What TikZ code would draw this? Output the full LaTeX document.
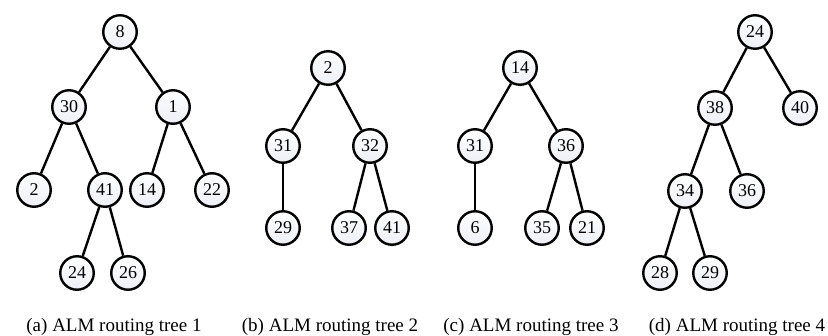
\documentclass[tikz,border=0pt]{standalone}
\usepackage{fontspec}
\setmainfont{Liberation Serif}
\usetikzlibrary{calc}
\definecolor{nodebot}{RGB}{236,239,246}
\tikzset{
	vert/.style={circle, draw=black, line width=2.4pt, minimum size=33.5pt, inner sep=0pt,
		top color=white, bottom color=nodebot, font=\fontsize{18}{18}\selectfont},
	edge/.style={line width=2.4pt},
	capt/.style={anchor=base, font=\fontsize{19}{19}\selectfont, inner sep=0pt}
}

\begin{document}
\begin{tikzpicture}[x=1pt, y=-1pt]
		%%%%% START %%%%%
		\useasboundingbox (0, 0) rectangle (828, 336);
		
		% tree 1
		\node[vert] (a8) at (120, 32) {8};
		\node[vert] (a30) at (69, 107) {30};
		\node[vert] (a1) at (173, 107) {1};
		\node[vert] (a2) at (34, 190) {2};
		\node[vert] (a41) at (105, 190) {41};
		\node[vert] (a14) at (147, 190) {14};
		\node[vert] (a22) at (212, 190) {22};
		\node[vert] (a24) at (77, 273) {24};
		\node[vert] (a26) at (128, 273) {26};
		\draw[edge] (a8) -- (a30);
		\draw[edge] (a8) -- (a1);
		\draw[edge] (a30) -- (a2);
		\draw[edge] (a30) -- (a41);
		\draw[edge] (a1) -- (a14);
		\draw[edge] (a1) -- (a22);
		\draw[edge] (a41) -- (a24);
		\draw[edge] (a41) -- (a26);
		\node[capt] (capa) at (114, 332) {(a) ALM routing tree 1};
		
		% tree 2
		\node[vert] (b2) at (328, 68) {2};
		\node[vert] (b31) at (283, 146) {31};
		\node[vert] (b32) at (370, 146) {32};
		\node[vert] (b29) at (283, 228) {29};
		\node[vert] (b37) at (349, 228) {37};
		\node[vert] (b41) at (392, 228) {41};
		\draw[edge] (b2) -- (b31);
		\draw[edge] (b2) -- (b32);
		\draw[edge] (b31) -- (b29);
		\draw[edge] (b32) -- (b37);
		\draw[edge] (b32) -- (b41);
		\node[capt] (capb) at (330, 332) {(b) ALM routing tree 2};
		
		% tree 3
		\node[vert] (c14) at (520, 68) {14};
		\node[vert] (c31) at (475, 146) {31};
		\node[vert] (c36) at (566, 146) {36};
		\node[vert] (c6) at (475, 228) {6};
		\node[vert] (c35) at (542, 228) {35};
		\node[vert] (c21) at (587, 228) {21};
		\draw[edge] (c14) -- (c31);
		\draw[edge] (c14) -- (c36);
		\draw[edge] (c31) -- (c6);
		\draw[edge] (c36) -- (c35);
		\draw[edge] (c36) -- (c21);
		\node[capt] (capc) at (531, 332) {(c) ALM routing tree 3};
		
		% tree 4
		\node[vert] (d24) at (755, 32) {24};
		\node[vert] (d38) at (715, 108) {38};
		\node[vert] (d40) at (800, 108) {40};
		\node[vert] (d34) at (685, 191) {34};
		\node[vert] (d36) at (747, 191) {36};
		\node[vert] (d28) at (660, 273) {28};
		\node[vert] (d29) at (710, 273) {29};
		\draw[edge] (d24) -- (d38);
		\draw[edge] (d24) -- (d40);
		\draw[edge] (d38) -- (d34);
		\draw[edge] (d38) -- (d36);
		\draw[edge] (d34) -- (d28);
		\draw[edge] (d34) -- (d29);
		\node[capt] (capd) at (737, 332) {(d) ALM routing tree 4};
		
		%%%%% END %%%%%
\end{tikzpicture}
\end{document}
